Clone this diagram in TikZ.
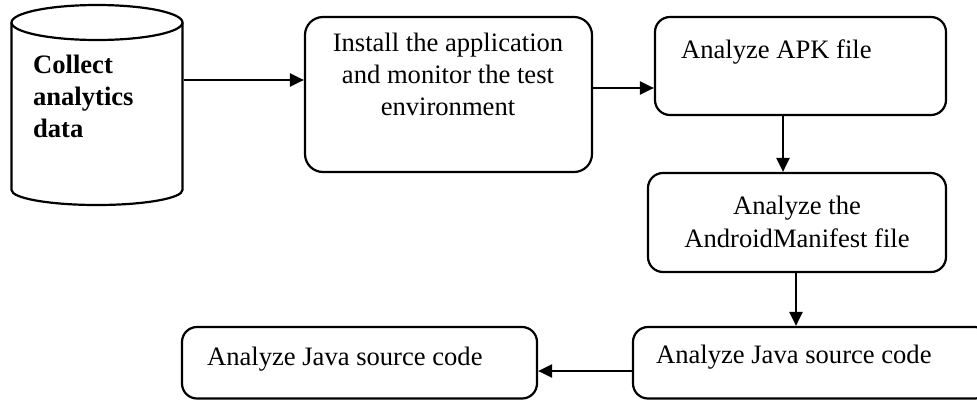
\documentclass[tikz,border=0pt]{standalone}
\usepackage{fontspec}
\setmainfont{Liberation Serif}
\usetikzlibrary{arrows.meta}
\begin{document}
\begin{tikzpicture}[x=1pt,y=-1pt,
  line width=2.2pt,
  box/.style={draw,rounded corners=18pt,inner sep=0pt,line width=2.2pt},
  lbl/.style={inner sep=0pt,anchor=base west,font=\fontsize{26.6}{32}\selectfont},
  clbl/.style={inner sep=0pt,anchor=base,align=center,font=\fontsize{26.6}{32}\selectfont},
  arr/.style={-{Triangle[length=14pt,width=13pt]},line width=2.2pt}]
\useasboundingbox (0,0) rectangle (977,400);
\clip (0,0) rectangle (977,400);
% cylinder
\draw (11.5,22.5) -- (11.5,190) arc[start angle=180,end angle=360,x radius=85.5,y radius=-15] -- (182.5,22.5);
\draw (97,22.5) ellipse[x radius=85.5,y radius=17.5];
\node[inner sep=0pt,minimum width=171pt,minimum height=168pt] (cyl) at (97,106) {};
\node[inner sep=0pt,anchor=base west,align=left,font=\fontsize{26.6}{32}\selectfont\bfseries] (cyltext) at (32,137) {Collect\\analytics\\data};
% boxes
\node[box,minimum width=287pt,minimum height=155pt] (inst) at (448.5,94.5) {};
\node[clbl] (insttext) at (448,115) {Install the application\\and monitor the test\\environment};
\node[box,rounded corners=15pt,minimum width=291pt,minimum height=98pt] (apk) at (800.5,66) {};
\node[lbl] (apktext) at (680,58) {Analyze APK file};
\node[box,rounded corners=15pt,minimum width=298pt,minimum height=99pt] (man) at (797,222.5) {};
\node[clbl,font=\fontsize{26.6}{33}\selectfont] (mantext) at (797,247) {Analyze the\\AndroidManifest file};
\node[box,rounded corners=15pt,minimum width=357pt,minimum height=71.5pt] (javr) at (811.5,362.75) {};
\node[lbl] (javrtext) at (655,363) {Analyze Java source code};
\node[box,rounded corners=15pt,minimum width=355pt,minimum height=71.5pt] (javl) at (359.5,362.75) {};
\node[lbl] (javltext) at (206,365) {Analyze Java source code};
% arrows
\draw[arr] (cyl.east |- 0,80) -- (inst.west |- 0,80);
\draw[arr] (inst.east |- 0,88) -- (apk.west |- 0,88);
\draw[arr] (apk.south -| 783,0) -- (man.north -| 783,0);
\draw[arr] (man.south -| 796,0) -- (javr.north -| 796,0);
\draw[arr] (javr.west |- 0,371) -- (javl.east |- 0,371);
\end{tikzpicture}
\end{document}
